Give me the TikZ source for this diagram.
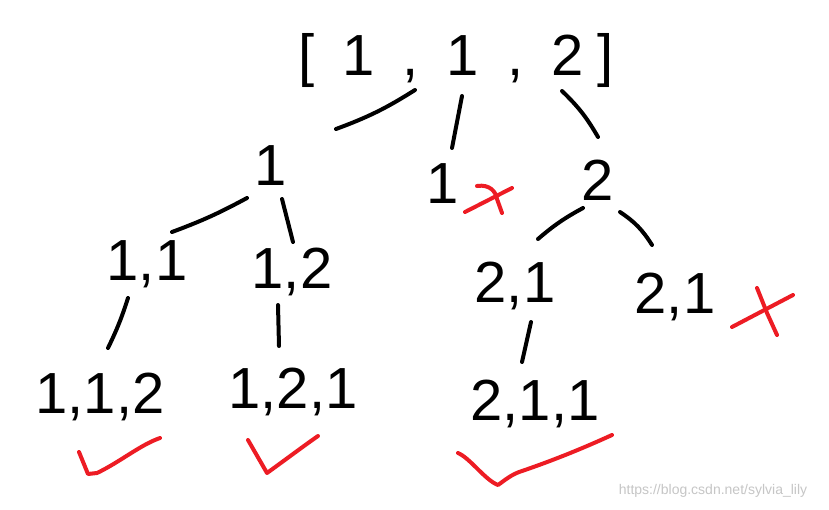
\documentclass[tikz,border=0pt]{standalone}
\usepackage{fontspec}
\setmainfont{Liberation Sans}
\usetikzlibrary{calc}
\definecolor{pen}{RGB}{237,28,36}
\tikzset{
  num/.style={font=\fontsize{58}{60}\selectfont, anchor=base, inner sep=0pt},
  conn/.style={line width=4pt, line cap=round, black},
  redmark/.style={line width=4pt, line cap=round, line join=round, pen},
  wm/.style={font=\fontsize{14}{16}\selectfont, text=gray!45, inner sep=0pt}
}
\begin{document}
\begin{tikzpicture}[x=1pt,y=-1pt]
\useasboundingbox[fill=white] (0,0) rectangle (829,509);
% nodes
\node[num] (root) at (456,75) {[\kern28pt 1\kern28pt ,\kern28pt 1\kern28pt ,\kern28pt 2\kern14pt ]};
\node[num] (l1) at (271,185) {1};
\node[num] (m1) at (443,203) {1};
\node[num] (r2) at (598,200) {2};
\node[num] (n11) at (147,280) {1,1};
\node[num] (n12) at (292,288) {1,2};
\node[num] (n21a) at (515,302) {2,1};
\node[num] (n21b) at (675,313) {2,1};
\node[num] (n112) at (100,413) {1,1,2};
\node[num] (n121) at (293,408) {1,2,1};
\node[num] (n211) at (535,420) {2,1,1};
\node[wm] (wm) at (713,491) {https://blog.csdn.net/sylvia\_lily};
% connectors
\draw[conn] ($(root.base)+(-41,15)$) to[bend left=6] ($(l1.base)+(65,-56)$);
\draw[conn] ($(root.base)+(6,21)$) -- ($(m1.base)+(9,-55)$);
\draw[conn] ($(root.base)+(106,16)$) to[bend left=8] ($(r2.base)+(0,-63)$);
\draw[conn] ($(l1.base)+(-24,13)$) to[bend left=4] ($(n11.base)+(25,-48)$);
\draw[conn] ($(l1.base)+(11,14)$) -- ($(n12.base)+(1,-46)$);
\draw[conn] ($(r2.base)+(-15,8)$) to[bend right=6] ($(n21a.base)+(23,-63)$);
\draw[conn] ($(r2.base)+(22,12)$) to[bend left=12] ($(n21b.base)+(-23,-68)$);
\draw[conn] ($(n11.base)+(-19,18)$) to[bend left=4] ($(n112.base)+(8,-65)$);
\draw[conn] ($(n12.base)+(-14,17)$) -- ($(n121.base)+(-14,-62)$);
\draw[conn] ($(n21a.base)+(16,20)$) -- ($(n211.base)+(-13,-58)$);
% red crosses
\draw[redmark] (465,212) -- (512,188);
\draw[redmark] (477,186) .. controls (490,184) and (496,192) .. (497,199) -- (502,213);
\draw[redmark] (732,327) -- (793,295);
\draw[redmark] (757,288) -- (767,313) -- (777,335);
% red check marks
\draw[redmark] (79,452) -- (88,474) -- (97,473) .. controls (120,462) and (140,445) .. (160,438);
\draw[redmark] (248,440) -- (267,473) .. controls (285,460) and (305,445) .. (318,436);
\draw[redmark] (458,453) .. controls (470,458) and (485,480) .. (498,485) .. controls (505,480) and (512,474) .. (522,471) .. controls (560,458) and (590,445) .. (612,435);
\end{tikzpicture}
\end{document}
